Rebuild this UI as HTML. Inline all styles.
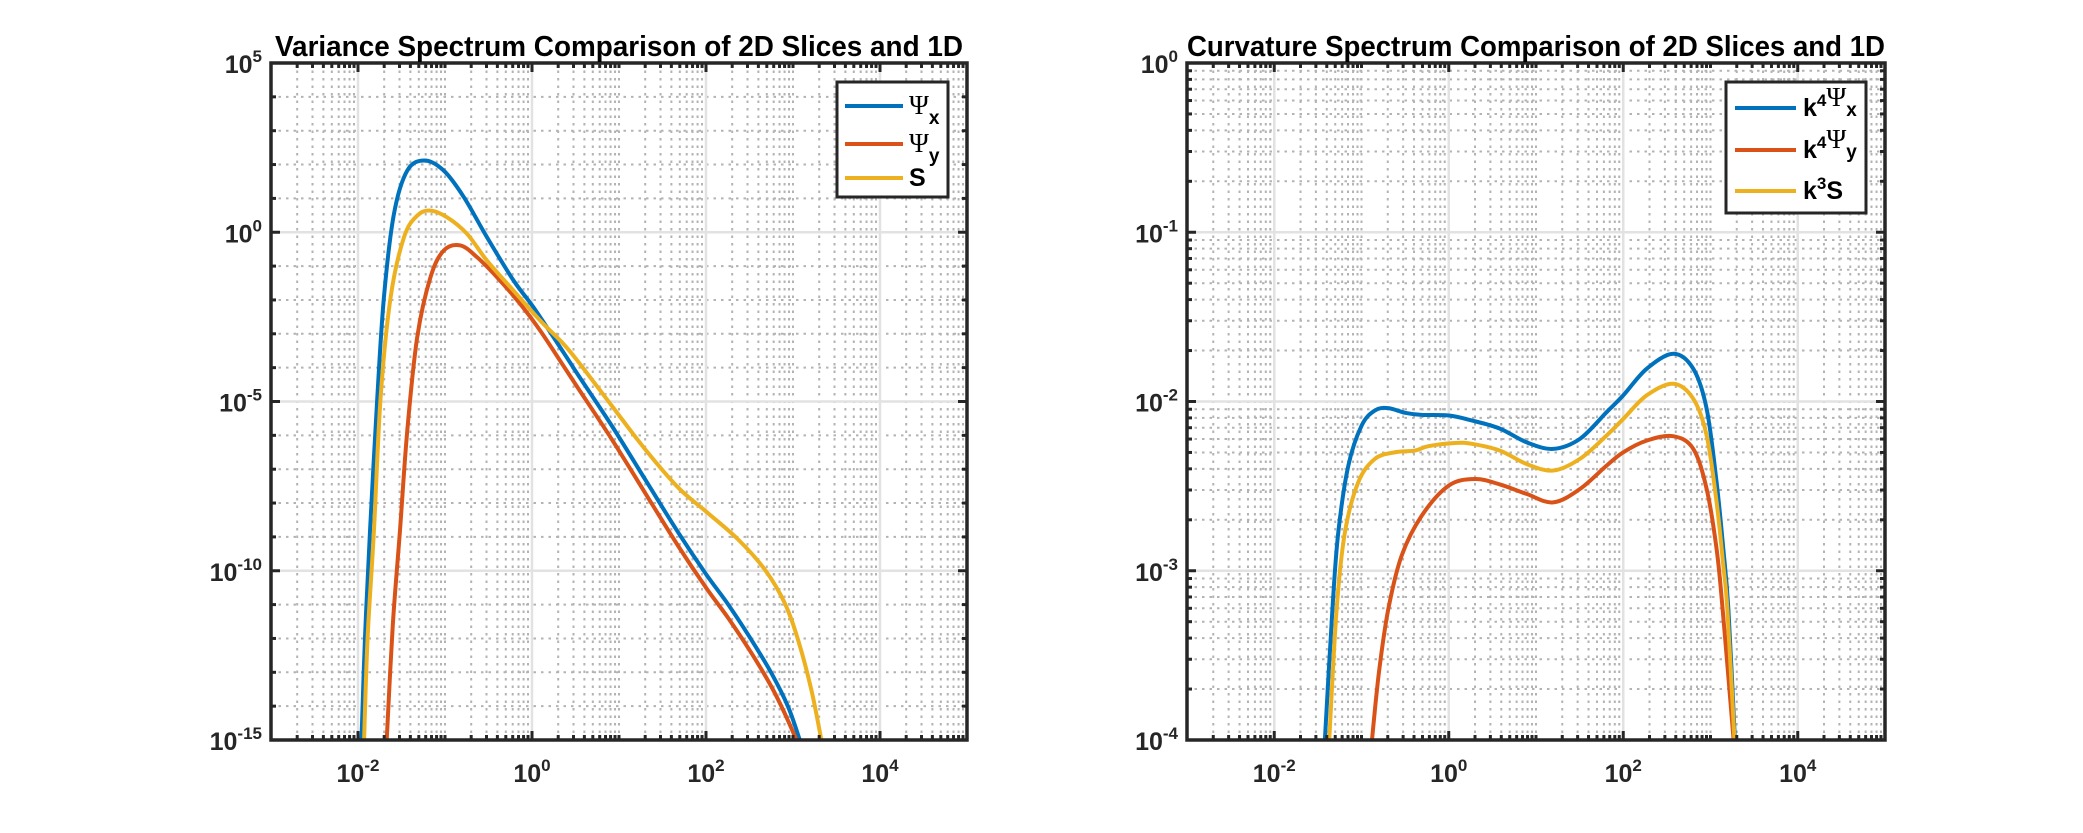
<!DOCTYPE html>
<html><head><meta charset="utf-8"><style>
html,body{margin:0;padding:0;background:#fff;}
svg{display:block;font-family:"Liberation Sans",sans-serif;font-weight:bold;}
</style></head><body>
<svg id="fig" width="2083" height="833" viewBox="0 0 2083 833" xmlns="http://www.w3.org/2000/svg">
<rect width="2083" height="833" fill="#fff"/>
<g id="left"></g>
<g id="right"></g>
</svg>
<script>
// ---------- data (log10 k, log10 value) ----------
const varPsiXLogK = [-1.96,-1.92,-1.862,-1.778,-1.702,-1.587,-1.434,-1.235,-1.014,-0.784,-0.517,-0.211,0.018,0.362,0.536,0.918,1.30,1.683,2.0,2.256,2.524,2.753,2.944,3.078];
const varPsiXLogV = [-15,-12,-8.83,-4.88,-1.92,0.54,1.82,2.12,1.82,1.04,-0.15,-1.43,-2.22,-3.55,-4.24,-5.72,-7.30,-8.88,-10.1,-11.0,-12.05,-13.03,-14.02,-15];
const varPsiYLogK = [-1.67,-1.6,-1.518,-1.434,-1.320,-1.167,-1.014,-0.823,-0.631,-0.402,-0.135,0.095,0.362,0.536,0.918,1.30,1.683,2.0,2.256,2.524,2.753,2.906,3.04];
const varPsiYLogV = [-15,-11.6,-8.83,-5.87,-3.11,-1.33,-0.54,-0.39,-0.74,-1.33,-2.12,-2.91,-3.95,-4.63,-6.12,-7.70,-9.28,-10.5,-11.4,-12.44,-13.43,-14.22,-15];
const varSLogK = [-1.93,-1.89,-1.817,-1.740,-1.625,-1.472,-1.320,-1.167,-0.976,-0.746,-0.517,-0.211,0.095,0.362,0.536,0.918,1.30,1.683,2.0,2.371,2.677,2.906,3.059,3.212,3.326];
const varSLogV = [-15,-12,-8.83,-4.88,-1.92,-0.15,0.49,0.64,0.44,-0.05,-0.84,-1.73,-2.61,-3.30,-3.84,-5.13,-6.41,-7.55,-8.25,-9.08,-9.97,-10.96,-12.05,-13.53,-15];

const curPsiXLogK = [-1.42,-1.33,-1.266,-1.151,-0.998,-0.846,-0.693,-0.501,-0.31,0,0.263,0.586,0.891,1.197,1.503,1.809,2.0,2.268,2.573,2.803,2.956,3.07,3.147,3.205,3.28];
const curPsiXLogV = [-4,-3.2,-2.773,-2.379,-2.142,-2.053,-2.039,-2.067,-2.079,-2.083,-2.112,-2.16,-2.241,-2.28,-2.221,-2.063,-1.964,-1.807,-1.718,-1.807,-2.043,-2.477,-2.872,-3.227,-4];
const curPsiYLogK = [-0.88,-0.80,-0.693,-0.54,-0.31,0,0.301,0.586,0.891,1.197,1.503,1.809,2.0,2.268,2.573,2.803,2.956,3.07,3.139,3.265];
const curPsiYLogV = [-4,-3.6,-3.227,-2.911,-2.675,-2.497,-2.458,-2.49,-2.546,-2.596,-2.517,-2.379,-2.30,-2.231,-2.205,-2.28,-2.517,-2.872,-3.227,-4];
const curSLogK = [-1.37,-1.285,-1.19,-1.037,-0.846,-0.616,-0.387,-0.234,0.072,0.263,0.586,0.891,1.197,1.503,1.809,2.0,2.268,2.573,2.803,2.956,3.07,3.147,3.193,3.275];
const curSLogV = [-4,-3.227,-2.773,-2.477,-2.339,-2.30,-2.29,-2.264,-2.245,-2.25,-2.29,-2.369,-2.408,-2.339,-2.201,-2.103,-1.964,-1.895,-1.984,-2.201,-2.596,-2.97,-3.227,-4];

const xTickExps = [-2,0,2,4];
const leftYTickExps = [5,0,-5,-10,-15];
const rightYTickExps = [0,-1,-2,-3,-4];
const titles = ["Variance Spectrum Comparison of 2D Slices and 1D","Curvature Spectrum Comparison of 2D Slices and 1D"];

const NS="http://www.w3.org/2000/svg";
const BLUE="#0072BD", RED="#D95319", YEL="#EDB120";
function mk(tag,attrs,parent){const e=document.createElementNS(NS,tag);for(const k in attrs)e.setAttribute(k,attrs[k]);parent.appendChild(e);return e;}

function smoothPath(pts){
  let d=`M${pts[0][0].toFixed(2)},${pts[0][1].toFixed(2)}`;
  for(let i=0;i<pts.length-1;i++){
    const p0=pts[Math.max(0,i-1)],p1=pts[i],p2=pts[i+1],p3=pts[Math.min(pts.length-1,i+2)];
    const c1=[p1[0]+(p2[0]-p0[0])/6,p1[1]+(p2[1]-p0[1])/6];
    const c2=[p2[0]-(p3[0]-p1[0])/6,p2[1]-(p3[1]-p1[1])/6];
    d+=` C${c1[0].toFixed(2)},${c1[1].toFixed(2)} ${c2[0].toFixed(2)},${c2[1].toFixed(2)} ${p2[0].toFixed(2)},${p2[1].toFixed(2)}`;
  }
  return d;
}

function chart(g,id,L,R,T,B,xmin,xmax,ymin,ymax,yMajorEvery,yMinor29,yTicks,title,series,legend){
  const sx=v=>L+(v-xmin)/(xmax-xmin)*(R-L);
  const sy=v=>B-(v-ymin)/(ymax-ymin)*(B-T);
  const grid=mk('g',{},g);
  
  
  for(let d=xmin;d<xmax;d++){
    for(let k=1;k<=9;k++){
      const v=d+Math.log10(k);
      if(k===1&&d%2===0) continue;
      if(v<=xmin) continue;
      mk('line',{x1:sx(v),x2:sx(v),y1:T,y2:B,stroke:'#b3b3b3','stroke-width':2,'stroke-dasharray':'2.5 5'},grid);
    }
  }
  for(let d=ymin;d<ymax;d++){
    const ks=yMinor29?[1,2,3,4,5,6,7,8,9]:[1];
    for(const k of ks){
      const v=d+Math.log10(k);
      if(k===1&&((d-ymin)%yMajorEvery===0)) continue;
      mk('line',{x1:L,x2:R,y1:sy(v),y2:sy(v),stroke:'#b3b3b3','stroke-width':2,'stroke-dasharray':'2.5 5'},grid);
    }
  }
  for(let d=xmin;d<=xmax;d++) if(d%2===0 && d>xmin && d<xmax)
    mk('line',{x1:sx(d),x2:sx(d),y1:T,y2:B,stroke:'#e2e2e2','stroke-width':2.5},grid);
  for(let d=ymin+yMajorEvery;d<ymax;d+=yMajorEvery)
    mk('line',{x1:L,x2:R,y1:sy(d),y2:sy(d),stroke:'#e2e2e2','stroke-width':2.5},grid);

  const clipId='clip'+id;
  const cp=mk('clipPath',{id:clipId},g); mk('rect',{x:L,y:T-1,width:R-L,height:B-T+1},cp);
  const sg=mk('g',{'clip-path':`url(#${clipId})`},g);
  for(const s of series){
    const pts=s.k.map((kv,i)=>[sx(kv),sy(s.v[i])]);
    const p=mk('path',{d:smoothPath(pts),fill:'none',stroke:s.color,'stroke-width':4,'stroke-linejoin':'round'},sg);
    
    
  }

  const tk=mk('g',{stroke:'#262626','stroke-width':3},g);
  
  
  for(let d=xmin;d<xmax;d++){
    for(let k=1;k<=9;k++){
      const v=d+Math.log10(k); if(v<=xmin) continue;
      const len=(k===1&&d%2===0)?9:5;
      mk('line',{x1:sx(v),x2:sx(v),y1:B,y2:B-len},tk);
      mk('line',{x1:sx(v),x2:sx(v),y1:T,y2:T+len},tk);
    }
  }
  for(let d=ymin;d<ymax;d++){
    const ks=yMinor29?[1,2,3,4,5,6,7,8,9]:[1];
    for(const k of ks){
      const v=d+Math.log10(k); if(v<=ymin) continue;
      const len=(k===1&&((d-ymin)%yMajorEvery===0))?9:5;
      mk('line',{x1:L,x2:L+len,y1:sy(v),y2:sy(v)},tk);
      mk('line',{x1:R,x2:R-len,y1:sy(v),y2:sy(v)},tk);
    }
  }
  const box=mk('rect',{x:L,y:T,width:R-L,height:B-T,fill:'none',stroke:'#262626','stroke-width':3.5},g);
  
  

  for(const e of xTickExps){
    const t=mk('text',{x:sx(e),y:B+42,'text-anchor':'middle','font-size':25,fill:'#262626'},g);
    
    
    t.innerHTML=`10<tspan dy="-11" font-size="17">${e}</tspan>`;
  }
  for(const e of yTicks){
    const t=mk('text',{x:L-9,y:sy(e)+10,'text-anchor':'end','font-size':25,fill:'#262626'},g);
    
    
    t.innerHTML=`10<tspan dy="-11" font-size="17">${e}</tspan>`;
  }
  const tt=mk('text',{x:(L+R)/2,y:56,'text-anchor':'middle','font-size':29,fill:'#000',textLength:title.len,lengthAdjust:'spacingAndGlyphs'},g);
  
  
  tt.textContent=title.text;

  const lg=mk('g',{},g);
  
  
  mk('rect',{x:legend.x,y:legend.y,width:legend.w,height:legend.h,fill:'#fff',stroke:'#262626','stroke-width':3},lg);
  legend.rows.forEach((r,i)=>{
    const e=mk('g',{},lg);
    
    
    mk('line',{x1:legend.lx1,x2:legend.lx2,y1:r.y,y2:r.y,stroke:series[i].color,'stroke-width':4},e);
    const t=mk('text',{x:legend.tx,y:r.y+8,'font-size':25,fill:'#000'},e);
    t.innerHTML=r.html;
  });
}

const psi='<tspan font-family="Liberation Serif, serif" font-weight="normal" font-size="27">Ψ</tspan>';
chart(document.getElementById('left'),'L',271,967,63,740,-3,5,-15,5,5,false,leftYTickExps,
  {text:titles[0],len:688},
  [{k:varPsiXLogK,v:varPsiXLogV,color:BLUE,name:'psi-x-line'},
   {k:varPsiYLogK,v:varPsiYLogV,color:RED,name:'psi-y-line'},
   {k:varSLogK,v:varSLogV,color:YEL,name:'s-line'}],
  {x:837,y:82,w:111,h:115,lx1:845,lx2:903,tx:909,
   rows:[{y:106,html:psi+'<tspan dy="10" font-size="19">x</tspan>'},
         {y:144,html:psi+'<tspan dy="10" font-size="19">y</tspan>'},
         {y:178,html:'S'}]});
chart(document.getElementById('right'),'R',1187,1885,63,740,-3,5,-4,0,1,true,rightYTickExps,
  {text:titles[1],len:698},
  [{k:curPsiXLogK,v:curPsiXLogV,color:BLUE,name:'k4-psi-x-line'},
   {k:curPsiYLogK,v:curPsiYLogV,color:RED,name:'k4-psi-y-line'},
   {k:curSLogK,v:curSLogV,color:YEL,name:'k3-s-line'}],
  {x:1726,y:82,w:140,h:131,lx1:1735,lx2:1796,tx:1803,
   rows:[{y:108,html:'k<tspan dy="-10" font-size="17">4</tspan><tspan dy="10"></tspan>'+psi+'<tspan dy="10" font-size="19">x</tspan>'},
         {y:150,html:'k<tspan dy="-10" font-size="17">4</tspan><tspan dy="10"></tspan>'+psi+'<tspan dy="10" font-size="19">y</tspan>'},
         {y:191,html:'k<tspan dy="-10" font-size="17">3</tspan><tspan dy="10">S</tspan>'}]});
</script>
</body></html>
